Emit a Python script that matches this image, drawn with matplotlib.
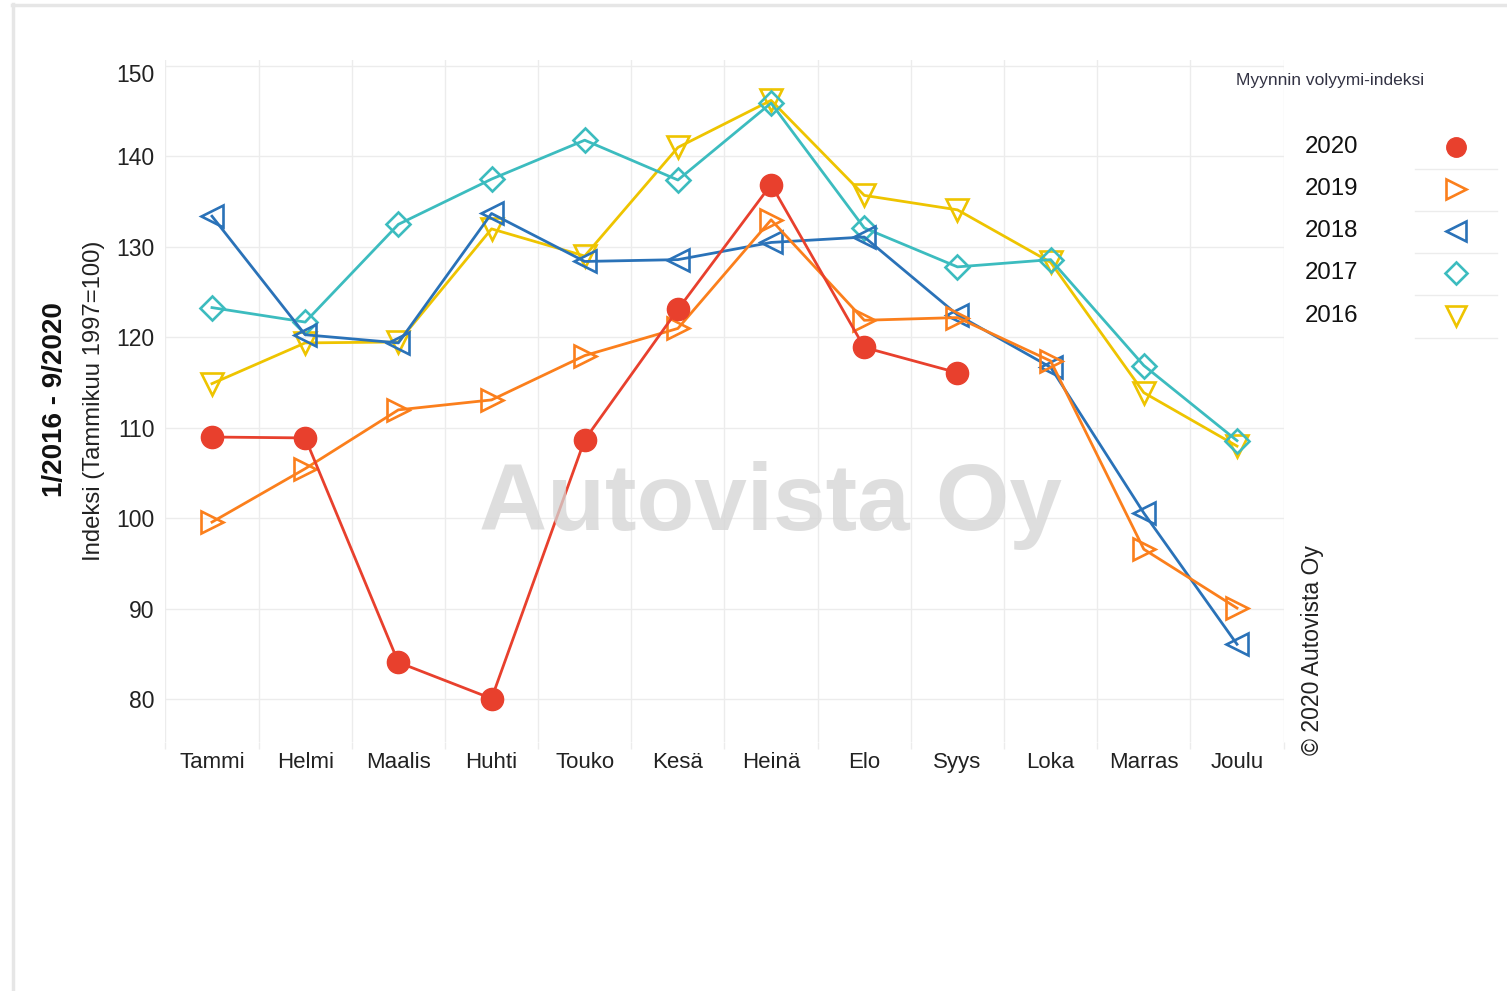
import numpy as np
import matplotlib
matplotlib.use("Agg")
import matplotlib.pyplot as plt
from matplotlib.lines import Line2D
import matplotlib.transforms as mtransforms

plt.rcParams['font.family'] = ['Liberation Sans', 'DejaVu Sans']

months = ["Tammi", "Helmi", "Maalis", "Huhti", "Touko", "Kesä",
          "Heinä", "Elo", "Syys", "Loka", "Marras", "Joulu"]

y2016 = [114.9, 119.4, 119.5, 132.0, 129.0, 141.0, 146.2, 135.7, 134.1, 128.3, 113.9, 108.0]
y2017 = [123.3, 121.7, 132.5, 137.5, 141.8, 137.4, 145.9, 132.1, 127.8, 128.6, 116.9, 108.6]
y2018 = [133.4, 120.3, 119.4, 133.7, 128.4, 128.6, 130.5, 131.1, 122.5, 116.7, 100.6, 86.1]
y2019 = [99.6, 105.5, 112.0, 113.1, 118.0, 121.0, 133.0, 121.9, 122.2, 117.4, 96.6, 90.1]
y2020 = [109.0, 108.9, 84.1, 80.1, 108.7, 123.1, 136.9, 118.9, 116.1]

years = ["2020", "2019", "2018", "2017", "2016"]
series = [y2020, y2019, y2018, y2017, y2016]
colors = ["#e8402d", "#fb7f1c", "#2a72b8", "#3cbcbf", "#eec400"]
markers = ["o", ">", "<", "D", "v"]

W, H = 1507, 991
fig = plt.figure(figsize=(W / 100, H / 100), dpi=100)

def fx(px):
    return px / W

def fy(py):
    return 1 - py / H

ax = fig.add_axes([fx(165.4), fy(742), fx(1283.6) - fx(165.4), fy(60) - fy(742)])
ax.set_xlim(-0.5, 11.5)
ax.set_ylim(75.3, 150.66)

# draw 2016 first so 2020 ends on top
for yr, vals, c, m in reversed(list(zip(years, series, colors, markers))):
    x = np.arange(len(vals))
    if m == "o":
        ax.plot(x, vals, color=c, lw=2, marker=m, ms=16, mfc=c, mec=c, zorder=5)
    else:
        ms = 12.5 if m == "D" else 16
        ax.plot(x, vals, color=c, lw=2, marker=m, ms=ms, mfc="none", mec=c, mew=1.9, zorder=4)

ax.set_xticks(range(12))
ax.set_xticklabels(months, fontsize=16, color="#222222")
for lab in ax.get_xticklabels():
    lab.set_verticalalignment("baseline")
ax.set_xticks(np.arange(-0.5, 12, 1), minor=True)
ax.set_yticks(range(80, 151, 10))
ax.tick_params(axis="y", labelsize=16.5, length=0, pad=8, labelcolor="#222222")
ax.tick_params(axis="x", which="major", length=0, pad=19)
ax.tick_params(axis="x", which="minor", length=5, color="#ececec", width=1)
ax.grid(axis="y", color="#ececec", lw=1)
ax.grid(axis="x", which="minor", color="#ececec", lw=1)
for s in ax.spines.values():
    s.set_visible(False)
ax.set_axisbelow(True)

# the top label sits a little below its gridline in the original
top_lab = ax.get_yticklabels()[-1]
top_lab.set_transform(top_lab.get_transform() +
                      mtransforms.ScaledTranslation(0, -7 / 100, fig.dpi_scale_trans))

ax.set_ylabel("Indeksi (Tammikuu 1997=100)", fontsize=17.2, color="#222222", labelpad=8)
fig.text(fx(55), fy(400), "1/2016 - 9/2020", rotation=90, fontsize=20, fontweight="bold",
         ha="center", va="center", color="#111111")

# watermark
fig.text(fx(770), fy(530), "Autovista Oy", fontsize=68, fontweight="bold",
         color="#d4d4d4", alpha=0.75, ha="center", va="baseline", zorder=0)

# copyright
fig.text(fx(1313), fy(755), "© 2020 Autovista Oy", rotation=90, fontsize=16.6,
         ha="center", va="bottom", color="#222222")

# legend
fig.text(fx(1330), fy(80), "Myynnin volyymi-indeksi", fontsize=12.5, ha="center",
         va="center", color="#333344")
leg_y = [147, 189, 231, 273, 316]
for yr, c, m, py in zip(years, colors, markers, leg_y):
    fig.text(fx(1305), fy(py), yr, fontsize=17.3, ha="left", va="center", color="#111111")
    if m == "o":
        fig.add_artist(Line2D([fx(1456)], [fy(py)], marker="o", ms=14, mfc=c, mec=c,
                              ls="none", transform=fig.transFigure))
    else:
        ms = 11 if m == "D" else 14
        fig.add_artist(Line2D([fx(1456)], [fy(py)], marker=m, ms=ms, mfc="none", mec=c,
                              mew=1.9, ls="none", transform=fig.transFigure))
    fig.add_artist(Line2D([fx(1415), fx(1497)], [fy(py + 22), fy(py + 22)], color="#ececec",
                          lw=1, transform=fig.transFigure))

# frame of the page
fig.add_artist(Line2D([fx(13), fx(13)], [fy(4), 0], color="#e6e6e6", lw=2.5,
                      transform=fig.transFigure))
fig.add_artist(Line2D([fx(12), 1], [fy(5), fy(5)], color="#e6e6e6", lw=2.5,
                      transform=fig.transFigure))

fig.savefig("out.png", dpi=100)
